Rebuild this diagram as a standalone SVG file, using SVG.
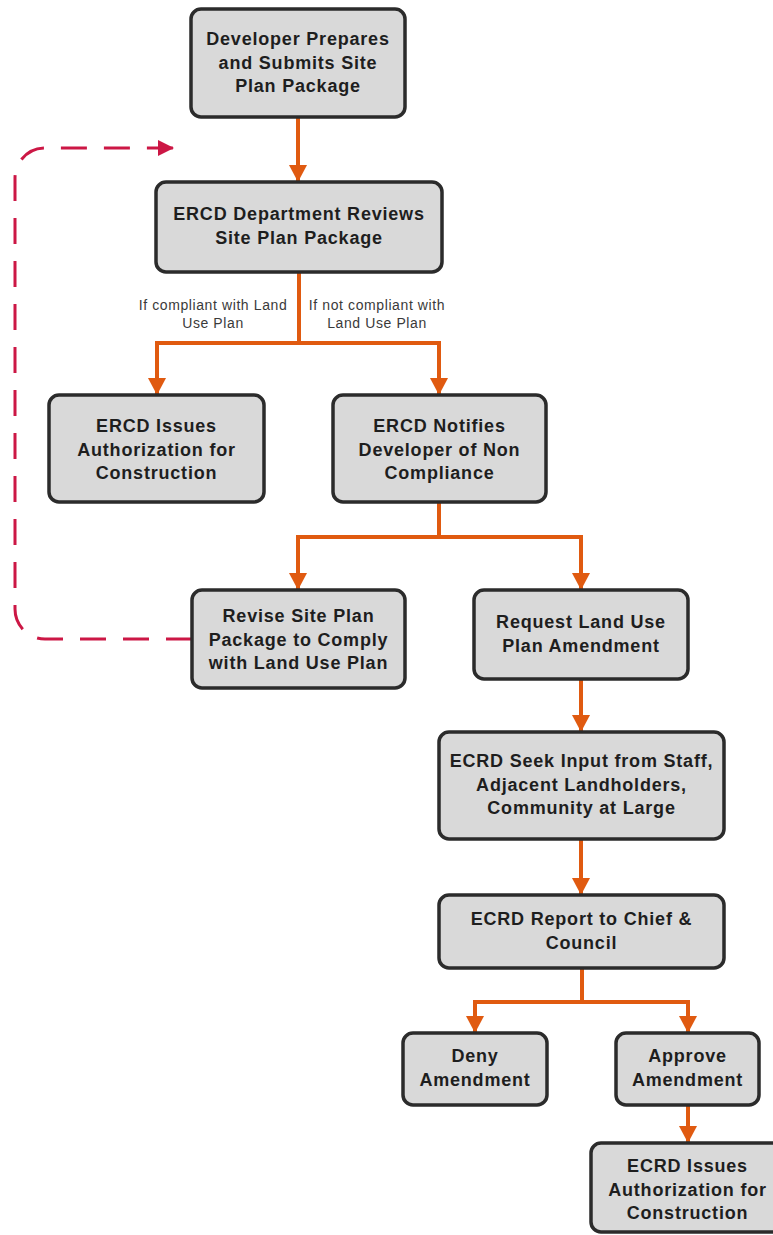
<svg xmlns="http://www.w3.org/2000/svg" width="773" height="1235" viewBox="0 0 773 1235">
<style>
.box{fill:#d9d9d9;stroke:#2b2b2b;stroke-width:3.5}
.t{font-family:"Liberation Sans",Arial,sans-serif;font-weight:bold;font-size:18px;letter-spacing:0.8px;fill:#1e1e1e;text-anchor:middle}
.lbl{font-family:"Liberation Sans",Arial,sans-serif;font-size:14px;letter-spacing:0.6px;fill:#3a3a3a;text-anchor:middle}
.c{fill:none;stroke:#e05a10;stroke-width:4}
.d{fill:none;stroke:#cc1745;stroke-width:3;stroke-dasharray:26 17}
</style>
<defs>
<marker id="ah" markerUnits="userSpaceOnUse" markerWidth="18" markerHeight="18" refX="17" refY="9" orient="auto" viewBox="0 0 18 18">
<path d="M0,0 L17,9 L0,18 z" fill="#e05a10"/>
</marker>
<marker id="ahd" markerUnits="userSpaceOnUse" markerWidth="16" markerHeight="16" refX="16" refY="8" orient="auto" viewBox="0 0 16 16">
<path d="M0,0 L16,8 L0,16 z" fill="#cc1745"/>
</marker>
</defs>
<g id="connectors">
<path class="c" d="M298,117 V182" marker-end="url(#ah)"/>
<path class="c" d="M299,272 V343 H157 V395" marker-end="url(#ah)"/>
<path class="c" d="M299,343 H439 V395" marker-end="url(#ah)"/>
<path class="c" d="M439,502 V537 H298 V590" marker-end="url(#ah)"/>
<path class="c" d="M439,537 H581 V590" marker-end="url(#ah)"/>
<path class="c" d="M581,679 V732" marker-end="url(#ah)"/>
<path class="c" d="M581,839 V895" marker-end="url(#ah)"/>
<path class="c" d="M582,968 V1002 H475 V1033" marker-end="url(#ah)"/>
<path class="c" d="M582,1002 H688 V1033" marker-end="url(#ah)"/>
<path class="c" d="M688,1105 V1143" marker-end="url(#ah)"/>
<path class="d" d="M192,639 H45 A30,30 0 0 1 15,609 V178 A30,30 0 0 1 45,148 H174" marker-end="url(#ahd)"/>
<text class="lbl" x="213" y="310">If compliant with Land</text>
<text class="lbl" x="213" y="328">Use Plan</text>
<text class="lbl" x="377" y="310">If not compliant with</text>
<text class="lbl" x="377" y="328">Land Use Plan</text>
</g>
<g id="n1">
<rect class="box" x="191" y="9" width="214" height="108" rx="10"/>
<text class="t" x="298" y="45">Developer Prepares</text>
<text class="t" x="298" y="68.5">and Submits Site</text>
<text class="t" x="298" y="92">Plan Package</text>
</g>
<g id="n2">
<rect class="box" x="156" y="182" width="286" height="90" rx="10"/>
<text class="t" x="299" y="220">ERCD Department Reviews</text>
<text class="t" x="299" y="243.5">Site Plan Package</text>
</g>
<g id="n3">
<rect class="box" x="49" y="395" width="215" height="107" rx="10"/>
<text class="t" x="156.5" y="432">ERCD Issues</text>
<text class="t" x="156.5" y="455.5">Authorization for</text>
<text class="t" x="156.5" y="479">Construction</text>
</g>
<g id="n4">
<rect class="box" x="333" y="395" width="213" height="107" rx="10"/>
<text class="t" x="439.5" y="432">ERCD Notifies</text>
<text class="t" x="439.5" y="455.5">Developer of Non</text>
<text class="t" x="439.5" y="479">Compliance</text>
</g>
<g id="n5">
<rect class="box" x="192" y="590" width="213" height="98" rx="10"/>
<text class="t" x="298.5" y="622">Revise Site Plan</text>
<text class="t" x="298.5" y="645.5">Package to Comply</text>
<text class="t" x="298.5" y="669">with Land Use Plan</text>
</g>
<g id="n6">
<rect class="box" x="474" y="590" width="214" height="89" rx="10"/>
<text class="t" x="581" y="628">Request Land Use</text>
<text class="t" x="581" y="651.5">Plan Amendment</text>
</g>
<g id="n7">
<rect class="box" x="439" y="732" width="285" height="107" rx="10"/>
<text class="t" x="581.5" y="767">ECRD Seek Input from Staff,</text>
<text class="t" x="581.5" y="790.5">Adjacent Landholders,</text>
<text class="t" x="581.5" y="814">Community at Large</text>
</g>
<g id="n8">
<rect class="box" x="439" y="895" width="285" height="73" rx="10"/>
<text class="t" x="581.5" y="925">ECRD Report to Chief &amp;</text>
<text class="t" x="581.5" y="948.5">Council</text>
</g>
<g id="n9">
<rect class="box" x="403" y="1033" width="144" height="72" rx="10"/>
<text class="t" x="475" y="1062">Deny</text>
<text class="t" x="475" y="1085.5">Amendment</text>
</g>
<g id="n10">
<rect class="box" x="616" y="1033" width="143" height="72" rx="10"/>
<text class="t" x="687.5" y="1062">Approve</text>
<text class="t" x="687.5" y="1085.5">Amendment</text>
</g>
<g id="n11">
<rect class="box" x="591" y="1143" width="195" height="89" rx="10"/>
<text class="t" x="687.5" y="1172">ECRD Issues</text>
<text class="t" x="687.5" y="1195.5">Authorization for</text>
<text class="t" x="687.5" y="1219">Construction</text>
</g>
</svg>
